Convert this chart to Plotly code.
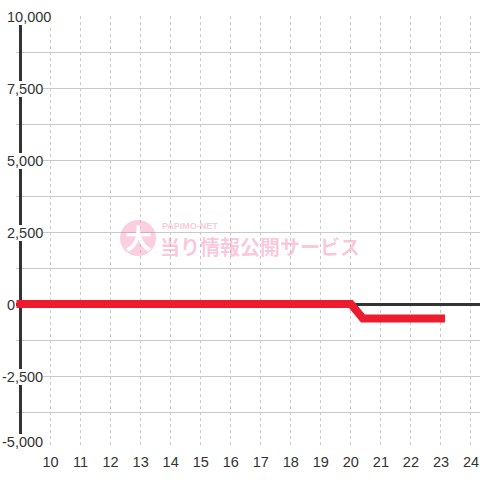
import plotly.graph_objects as go

# ---- data ----
hours = [9, 20, 20.4, 23]
balance = [0, 0, -500, -500]
x_tick_vals = list(range(10, 25))
y_label_vals = [10000, 7500, 5000, 2500, 0, -2500, -5000]
y_grid_step = 1250
x_start = 9
x_view = [8.85, 24.3]
y_view = [-5000, 10000]

W, H = 480, 480
ML, MR, MT, MB = 16, 0, 16, 32
PW, PH = W - ML - MR, H - MT - MB
FONT = "Liberation Sans, Arial, sans-serif"
TXT = "#333333"
GRID = "#c9c9c9"


def pp(xpx, ypx):
    return (xpx - ML) / PW, 1 - (ypx - MT) / PH


fig = go.Figure()
fig.add_trace(go.Scatter(
    x=hours, y=balance, mode="lines",
    line=dict(color="#ec1c2e", width=8),
    hoverinfo="skip",
))

shapes = [
    dict(type="rect", xref="x", yref="paper", x0=x_view[0], x1=x_start, y0=0, y1=1,
         fillcolor="white", line=dict(width=0), layer="between"),
    dict(type="line", xref="x", yref="y", x0=x_start, x1=x_start, y0=y_view[0], y1=y_view[1],
         line=dict(color=TXT, width=3), layer="between"),
]

cx0, cy0 = pp(120, 220)
cx1, cy1 = pp(156, 256)
shapes.append(dict(type="circle", xref="paper", yref="paper", x0=cx0, x1=cx1, y0=cy1, y1=cy0,
                   fillcolor="rgba(242,110,160,0.33)", line=dict(width=0), layer="above"))

annotations = []
for v in y_label_vals:
    annotations.append(dict(
        xref="paper", yref="y", x=0, y=v, xanchor="left", yanchor="middle",
        xshift=-9 if v >= 0 else -14, yshift=6 if v == y_view[0] else -1,
        text=f"{v:,}", showarrow=False, bgcolor="white", borderpad=0, borderwidth=0,
        font=dict(family=FONT, size=14.5, color=TXT),
    ))

PINK = "rgba(242,110,160,0.38)"
ax, ay = pp(138, 238)
annotations.append(dict(xref="paper", yref="paper", x=ax, y=ay, text="<b>大</b>", showarrow=False,
                        xanchor="center", yanchor="middle",
                        font=dict(family="Noto Sans CJK JP", size=27, color="white")))
ax, ay = pp(190, 226)
annotations.append(dict(xref="paper", yref="paper", x=ax, y=ay, text="<b>PAPIMO-NET</b>", showarrow=False,
                        xanchor="center", yanchor="middle",
                        font=dict(family=FONT, size=9, color=PINK)))
ax, ay = pp(260, 246)
annotations.append(dict(xref="paper", yref="paper", x=ax, y=ay, text="<b>当り情報公開サービス</b>", showarrow=False,
                        xanchor="center", yanchor="middle",
                        font=dict(family="Noto Sans CJK JP", size=20, color=PINK)))

fig.update_layout(
    width=W, height=H,
    margin=dict(l=ML, r=MR, t=MT, b=MB, pad=0),
    paper_bgcolor="white", plot_bgcolor="white",
    showlegend=False,
    shapes=shapes, annotations=annotations,
    xaxis=dict(range=x_view, tickvals=x_tick_vals, showgrid=True, gridcolor=GRID, gridwidth=1,
               griddash="dot", zeroline=False, showline=False, ticks="", ticklabelstandoff=3,
               tickfont=dict(family=FONT, size=14.5, color=TXT), fixedrange=True),
    yaxis=dict(range=y_view, dtick=y_grid_step, tick0=0, showticklabels=False, showgrid=True,
               gridcolor=GRID, gridwidth=1, zeroline=True, zerolinecolor=TXT, zerolinewidth=3,
               showline=False, ticks="", fixedrange=True),
)

post = (
    "document.body.style.margin='0';"
    "var gd=document.getElementById('{plot_id}');"
    "function cap(){gd.querySelectorAll('.scatterlayer .js-line').forEach(function(p){p.style.strokeLinecap='square';});}"
    "cap(); gd.on('plotly_afterplot', cap);"
)
fig.write_html("out.html", post_script=post, config={"displayModeBar": False})
